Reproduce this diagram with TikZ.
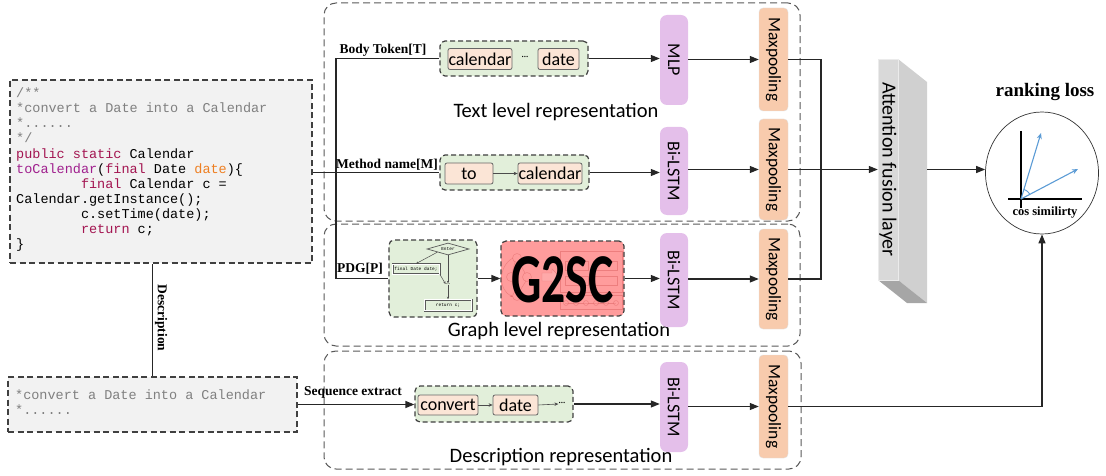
\documentclass[tikz,border=0pt]{standalone}
\usepackage{fontspec}
\setmainfont{Liberation Serif}
\newfontfamily\calfont{Carlito}
\newfontfamily\codefont{Liberation Mono}
\usetikzlibrary{arrows.meta,shapes.geometric,calc}
\definecolor{codebg}{HTML}{F2F2F2}
\definecolor{greenbg}{HTML}{E2EFDA}
\definecolor{tokbg}{HTML}{FBE5D6}
\definecolor{purp}{HTML}{E4BFEA}
\definecolor{orng}{HTML}{F8CBAD}
\definecolor{gsc}{HTML}{FF9C9C}
\definecolor{gscline}{HTML}{D85A5A}
\definecolor{kw}{HTML}{A31551}
\definecolor{fnc}{HTML}{A0208E}
\definecolor{prm}{HTML}{EE7F22}
\definecolor{cmt}{HTML}{808080}
\definecolor{vecblue}{HTML}{5B9BD5}
\definecolor{slabfront}{HTML}{D9D9D9}
\definecolor{slabside}{HTML}{D0D0D0}
\definecolor{slabbot}{HTML}{A6A6A6}
\begin{document}
\begin{tikzpicture}[x=1pt,y=-1pt,
  conn/.style={line width=1.2pt, draw=black!85},
  arr/.style={conn, -{Triangle[length=9pt,width=7pt]}},
  bigbox/.style={draw=black!65, dash pattern=on 7pt off 4pt, line width=1pt, rounded corners=12pt, inner sep=0pt},
  grn/.style={draw=black!75, fill=greenbg, dash pattern=on 5pt off 3pt, line width=1.2pt, rounded corners=5pt, inner sep=0pt},
  tok/.style={draw=black!60, fill=tokbg, rounded corners=2pt, line width=0.8pt, font=\calfont\fontsize{18}{18}\selectfont, inner sep=0pt, minimum height=21pt},
  nnbox/.style={fill=purp, rounded corners=7pt, inner sep=0pt, minimum width=28pt, font=\calfont\fontsize{18}{18}\selectfont},
  mpbox/.style={fill=orng, draw=black!12, rounded corners=4pt, inner sep=0pt, minimum width=29pt, font=\calfont\fontsize{17.5}{18}\selectfont},
  lab/.style={font=\bfseries\fontsize{13.5}{14}\selectfont, inner sep=0pt},
  rep/.style={font=\calfont\fontsize{20.5}{22}\selectfont, inner sep=0pt},
  codel/.style={anchor=base west, inner sep=0pt, font=\codefont\fontsize{13.5}{15}\selectfont},
  codebox/.style={draw=black!75, fill=codebg, dash pattern=on 6pt off 3.5pt, line width=1.1pt, inner sep=0pt},
  smallarr/.style={line width=0.6pt, draw=black!70, -{Stealth[length=4pt,width=3.5pt]}},
  farr/.style={line width=0.5pt, draw=black!70, -{Stealth[length=2.5pt,width=2.2pt]}},
  fbox/.style={draw=black!65, line width=0.7pt, inner sep=0pt, font=\codefont\fontsize{4.5}{5}\selectfont},
  gdeco/.style={draw=gscline, line width=0.45pt, opacity=0.45}
]
\useasboundingbox (0,0) rectangle (1106,476);

% ---------- big representation boxes ----------
\node[bigbox, minimum width=476pt, minimum height=218pt] (textrep) at (562,112) {};
\node[bigbox, minimum width=476pt, minimum height=122pt] (graphrep) at (562,285) {};
\node[bigbox, minimum width=477pt, minimum height=118pt] (descrep) at (562.5,410) {};
\node[rep] (textlab) at (556,112) {Text level representation};
\node[rep] (graphlab) at (559,331) {Graph level representation};
\node[rep] (desclab) at (561,457) {Description representation};

% ---------- code box ----------
\node[codebox, minimum width=302pt, minimum height=183pt] (code) at (161,171.5) {};
\node[codel] (c1) at (16,98) {\textcolor{cmt}{/**}};
\node[codel] (c2) at (16,113) {\textcolor{cmt}{*convert a Date into a Calendar}};
\node[codel] (c3) at (16,128) {\textcolor{cmt}{*......}};
\node[codel] (c4) at (16,143) {\textcolor{cmt}{*/}};
\node[codel] (c5) at (16,158) {\textcolor{kw}{public static} Calendar};
\node[codel] (c6) at (16,173) {\textcolor{fnc}{toCalendar}(\textcolor{kw}{final} Date \textcolor{prm}{date})\{};
\node[codel] (c7) at (16,188) {\hphantom{00000000}\textcolor{kw}{final} Calendar c =};
\node[codel] (c8) at (16,203) {Calendar.getInstance();};
\node[codel] (c9) at (16,218) {\hphantom{00000000}c.setTime(date);};
\node[codel] (c10) at (16,233) {\hphantom{00000000}\textcolor{kw}{return} c;};
\node[codel] (c11) at (16,248) {\}};

% ---------- description box ----------
\node[codebox, minimum width=289pt, minimum height=55pt] (desc) at (152.5,404.5) {};
\node[codel] (d1) at (15,399) {\textcolor{cmt}{*convert a Date into a Calendar}};
\node[codel] (d2) at (15,414) {\textcolor{cmt}{*......}};
\draw[conn] (desc.north) -- (desc.north |- code.south);
\node[lab] (desclabel) at (161,318) {\rotatebox{-90}{Description}};

% ---------- text level row 1 ----------
\node[grn, minimum width=148pt, minimum height=35pt] (bgreen) at (514,58.5) {};
\node[tok, minimum width=64pt] (tk1) at (480,59) {calendar};
\node[inner sep=0pt, font=\calfont\fontsize{9}{9}\selectfont] (dots1) at (525,58) {···};
\node[tok, minimum width=41pt] (tk2) at (558.5,59) {date};

% ---------- text level row 2 ----------
\node[grn, minimum width=149pt, minimum height=35pt] (mgreen) at (514.5,172.5) {};
\node[tok, minimum width=48pt] (tk3) at (469,173.5) {to};
\node[tok, minimum width=64pt] (tk4) at (550,173.5) {calendar};
\draw[smallarr] (tk3.east) -- (tk4.west);

% ---------- graph row ----------
\node[grn, minimum width=88pt, minimum height=77pt] (pdg) at (433,278.5) {};
\node[fbox, diamond, aspect=3.5, minimum width=42pt, minimum height=12pt] (fenter) at (448,249) {Enter};
\node[fbox, minimum width=47pt, minimum height=10pt, double, double distance=0.6pt] (ffinal) at (416,269) {final Date date;};
\node[inner sep=0pt, font=\fontsize{6}{6}\selectfont] (fdots) at (448,284) {...};
\node[fbox, minimum width=47pt, minimum height=11pt, double, double distance=0.6pt] (fret) at (448,305) {return c;};
\draw[farr] (fenter.south) -- (fdots.north);
\draw[farr] ($(fenter.west)!0.5!(fenter.south)$) -- (ffinal.north);
\draw[farr] (ffinal.south east) -- (fdots.west);
\draw[farr] (fdots.south) -- (fret.north);

\node[fill=gsc, draw=black!75, dash pattern=on 5pt off 3pt, line width=1.2pt, rounded corners=5pt, minimum width=123pt, minimum height=75pt, inner sep=0pt] (g2sc) at (562.5,278.5) {};
% faint background picture inside G2SC
\draw[gdeco] (517,258) circle (4.5) (511,277) circle (4.5) (527,277) circle (4.5) (517,296) circle (4.5);
\draw[gdeco] (515,262) -- (512,273) (519,262) -- (525,273) (512,281) -- (515,292) (526,281) -- (519,292);
\draw[gdeco, -{Stealth[length=3pt]}] (513,258) .. controls (498,266) and (498,290) .. (513,297);
\draw[gdeco, fill=gsc!70!white] (542,273) -- (552,273) -- (552,269) -- (560,277) -- (552,285) -- (552,281) -- (542,281) -- cycle;
\draw[gdeco] (560,251) rectangle (622,292);
\draw[gdeco] (565,261) rectangle (588,270) (593,261) rectangle (617,270)
             (565,276) rectangle (588,285) (593,276) rectangle (617,285);
\draw[gdeco] (560,295) rectangle (622,309);
\draw[gdeco] (565,303) -- (616,303);
\foreach \i in {0,...,5} { \draw[gdeco, fill=gsc] (566+10*\i,303) circle (2.5); }
\node[inner sep=0pt] (g2sclab) at ([yshift=-1pt]g2sc.center) {\scalebox{0.68}[1]{\calfont\bfseries\fontsize{70}{70}\selectfont G2SC}};

% ---------- description row ----------
\node[grn, minimum width=158pt, minimum height=36pt] (dgreen) at (494,404) {};
\node[tok, minimum width=60pt, minimum height=20pt] (tk5) at (448,405) {convert};
\node[tok, minimum width=45pt, minimum height=20pt] (tk6) at (515.5,405) {date};
\node[inner sep=0pt, font=\calfont\fontsize{9}{9}\selectfont] (dots3) at (562,404) {···};
\draw[smallarr] (tk5.east) -- (tk6.west);
\draw[smallarr] (tk6.east) -- (dots3.west);

% ---------- neural blocks ----------
\node[nnbox, minimum height=90pt] (mlp) at (674,60) {\rotatebox{-90}{MLP}};
\node[nnbox, minimum height=88pt] (bl1) at (674,171) {\rotatebox{-90}{Bi-LSTM}};
\node[nnbox, minimum height=94pt] (bl2) at (674,280) {\rotatebox{-90}{Bi-LSTM}};
\node[nnbox, minimum height=90pt] (bl3) at (674,407) {\rotatebox{-90}{Bi-LSTM}};
\node[mpbox, minimum height=103pt] (mp1) at (773.5,59.5) {\rotatebox{-90}{Maxpooling}};
\node[mpbox, minimum height=101pt] (mp2) at (773.5,169.5) {\rotatebox{-90}{Maxpooling}};
\node[mpbox, minimum height=100pt] (mp3) at (773.5,279) {\rotatebox{-90}{Maxpooling}};
\node[mpbox, minimum height=103pt] (mp4) at (773.5,406.5) {\rotatebox{-90}{Maxpooling}};

% ---------- attention slab ----------
\fill[slabside] (898,59) -- (927,82) -- (927,303) -- (898,280) -- cycle;
\fill[slabbot] (878,280) -- (898,280) -- (927,303) -- (907,303) -- cycle;
\node[fill=slabfront, draw=black!8, minimum width=20pt, minimum height=221pt, inner sep=0pt, font=\calfont\fontsize{20}{22}\selectfont] (att) at (888,169.5) {\rotatebox{-90}{Attention fusion layer}};
\coordinate (attR) at ([xshift=29pt]att.east);

% ---------- ranking loss ----------
\node[ellipse, draw=black!80, line width=0.7pt, minimum width=113pt, minimum height=122pt, inner sep=0pt] (circ) at (1042,173) {};
\node[font=\bfseries\fontsize{19}{20}\selectfont, inner sep=0pt] (rank) at (1045,92) {ranking loss};
\draw[line width=1.2pt] (1021,131) -- (1021,208);
\draw[line width=1.2pt] (1008,199) -- (1082,199);
\draw[vecblue, line width=1.1pt, -{Stealth[length=6pt,width=5pt]}] (1021,199) -- (1041,133);
\draw[vecblue, line width=1.1pt, -{Stealth[length=6pt,width=5pt]}] (1021,199) -- (1078,169);
\draw[vecblue, line width=0.9pt] plot[smooth] coordinates {(1029.8,194.3) (1027.4,191.3) (1023.9,189.4)};
\node[font=\bfseries\fontsize{12.5}{13}\selectfont, inner sep=0pt] (cossim) at (1045,213) {cos similirty};

% ---------- input connectors ----------
\coordinate (vx) at (336,0);
\draw[conn] (bgreen.west) -| (vx |- pdg.west) -- (pdg.west);
\draw[conn] (code.east |- mgreen.west) -- (mgreen.west);
\draw[arr] (desc.east) -- (desc.east -| dgreen.west);
\node[lab] (lbody) at (383,50) {Body Token[T]};
\node[lab] (lmeth) at (387,165) {Method name[M]};
\node[lab] (lpdg) at (360,269) {PDG[P]};
\node[lab] (lseq) at (353,392) {Sequence extract};

% ---------- flow connectors ----------
\draw[arr] (bgreen.east) -- (bgreen.east -| mlp.west);
\draw[arr] (mgreen.east) -- (mgreen.east -| bl1.west);
\draw[arr] (pdg.east) -- (pdg.east -| g2sc.west);
\draw[arr] (g2sc.east) -- (g2sc.east -| bl2.west);
\draw[arr] (dgreen.east) -- (dgreen.east -| bl3.west);
\draw[arr] (mlp.east |- mp1.west) -- (mp1.west);
\draw[arr] (bl1.east |- mp2.west) -- (mp2.west);
\draw[arr] (bl2.east |- mp3.west) -- (mp3.west);
\draw[arr] (bl3.east |- mp4.west) -- (mp4.west);
\coordinate (jx) at (821,0);
\draw[conn] (mp1.east) -| (jx |- mp3.east) -- (mp3.east);
\draw[arr] (mp2.east) -- (mp2.east -| att.west);
\draw[arr] (attR) -- (attR -| circ.west);
\draw[arr] (mp4.east) -| (circ.south);
\end{tikzpicture}
\end{document}
